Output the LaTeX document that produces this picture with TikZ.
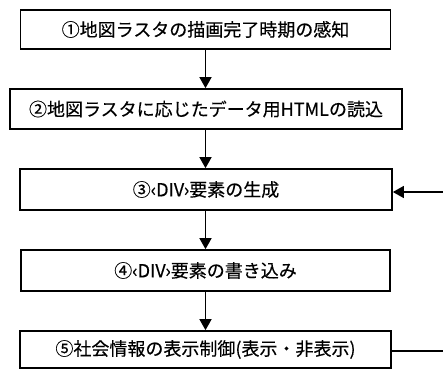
\documentclass[tikz,border=0pt]{standalone}
\usepackage{fontspec}
\newfontfamily\jp[FakeBold=0.3]{Noto Sans CJK JP}
\usetikzlibrary{arrows.meta}
\tikzset{
  stepbox/.style={draw=black, line width=1.7pt, fill=white, inner sep=0pt,
    font=\jp\fontsize{18}{21}\selectfont, text=black},
  flow/.style={draw=black, line width=1.6pt, -{Triangle[width=12pt,length=11pt]}},
  plain/.style={draw=black, line width=1.3pt}
}
\begin{document}
\begin{tikzpicture}[x=1pt,y=-1pt]
\useasboundingbox (0,0) rectangle (443,370);
\node[stepbox, minimum width=370pt, minimum height=39pt] (b1) at (205.5,29.5) {①地図ラスタの描画完了時期の感知};
\node[stepbox, minimum width=392pt, minimum height=40pt] (b2) at (206,109) {②地図ラスタに応じたデータ用HTMLの読込};
\node[stepbox, minimum width=372pt, minimum height=41pt] (b3) at (206,189.5) {③‹DIV›要素の生成};
\node[stepbox, minimum width=369pt, minimum height=41pt] (b4) at (205.5,270.5) {④‹DIV›要素の書き込み};
\node[stepbox, minimum width=371pt, minimum height=37pt] (b5) at (205.5,349.5) {⑤社会情報の表示制御(表示・非表示)};
\coordinate (fin) at (443,192);
\coordinate (fout) at (443,351);
\draw[flow] (b1.south) -- (b1.south |- b2.north);
\draw[flow] (b2.south -| b1.south) -- (b1.south |- b3.north);
\draw[flow] (b3.south -| b1.south) -- (b1.south |- b4.north);
\draw[flow] (b4.south -| b1.south) -- (b1.south |- b5.north);
\draw[flow, line width=1.3pt] (fin) -- (fin -| b3.east);
\draw[plain] (fout -| b5.east) -- (fout);
\end{tikzpicture}
\end{document}
